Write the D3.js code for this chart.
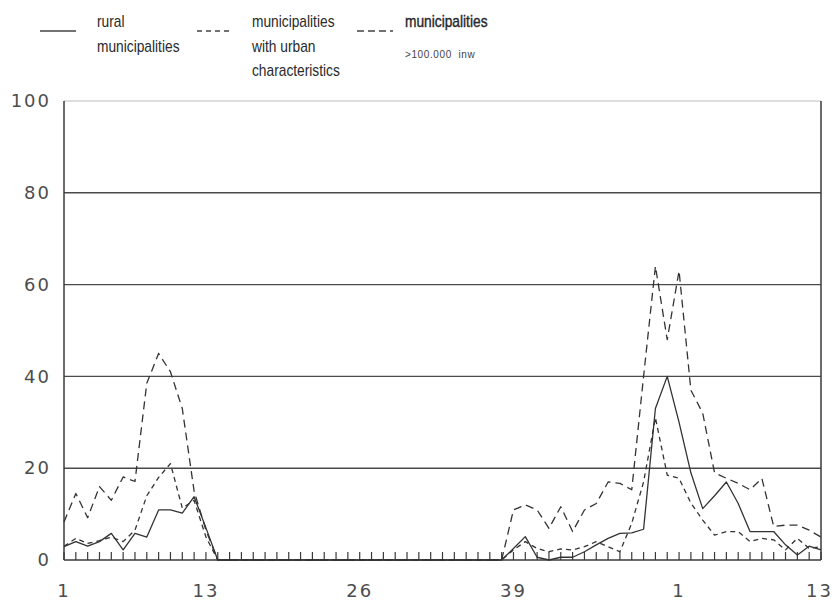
<!DOCTYPE html>
<html>
<head>
<meta charset="utf-8">
<script src="https://cdn.jsdelivr.net/npm/d3@7"></script>
<style>
  html, body { margin: 0; padding: 0; background: #fff; }
  svg { display: block; }
</style>
</head>
<body>
<svg id="chart" width="835" height="604"></svg>
<script>
// Weekly incidence per municipality type, weeks 1–52 followed by weeks 1–13 of the next year
const weeks = [1,2,3,4,5,6,7,8,9,10,11,12,13,14,15,16,17,18,19,20,21,22,23,24,25,26,
  27,28,29,30,31,32,33,34,35,36,37,38,39,40,41,42,43,44,45,46,47,48,49,50,51,52,53,
  1,2,3,4,5,6,7,8,9,10,11,12];

const rural = [2.9,4,3,4,5.8,2.2,5.8,5,10.9,10.9,10.2,13.8,7,0,
  0,0,0,0,0,0,0,0,0,0,0,0,0,0,0,0,0,0,0,0,0,0,0,
  0,2.5,5.1,0.6,0,0.6,0.6,1.8,3.3,4.7,5.8,5.9,6.7,33,40,30,19,11.2,14,17,12.3,
  6.2,6.2,6.2,3.3,1.1,3.0,2.2];

const urban = [3,4.7,3.6,4.2,5,4,6.5,14,18,21,11.3,13,5,0,
  0,0,0,0,0,0,0,0,0,0,0,0,0,0,0,0,0,0,0,0,0,0,0,
  0,2.2,4,2.5,1.8,2.4,2.2,2.9,4,2.9,1.8,8,17,31,18.5,17.8,12.4,8.7,5.4,6.2,
  6.2,4,4.7,4.4,2.2,4.7,2.5,2.9];

const large = [8.3,14.5,9.2,16,13,18.1,17.1,38.5,45,41,33,15,6.5,0,
  0,0,0,0,0,0,0,0,0,0,0,0,0,0,0,0,0,0,0,0,0,0,0,
  0,10.9,12,10.9,6.9,11.6,6.2,10.9,12.3,17,16.7,15.3,40,64,48,63,37,32,19,17.8,
  16.7,15.3,17.8,7.3,7.6,7.6,6.5,5];

// Positions (week index) that get a label, and the labels drawn there
const xTickIndex = [0, 12, 25, 38, 52, 64];
const xTickLabels = ["1", "13", "26", "39", "1", "13"];
const yTicks = [0, 20, 40, 60, 80, 100];

const legendItems = [
  { lines: ["rural", "municipalities"], dash: null, heavy: false },
  { lines: ["municipalities", "with urban", "characteristics"], dash: "5,4", heavy: false },
  { lines: ["municipalities"], sub: ">100.000  inw", dash: "7,4", heavy: true }
];

const svg = d3.select("#chart");
const plotLeft = 64, plotRight = 821, plotTop = 101, plotBottom = 560;
const ink = "#3a3a3a";

const x = d3.scaleLinear().domain([0, weeks.length - 1]).range([plotLeft, plotRight]);
const y = d3.scaleLinear().domain([0, 100]).range([plotBottom, plotTop]);

// Horizontal grid lines
svg.append("g")
  .selectAll("line")
  .data(yTicks.filter(v => v > 0 && v < 100))
  .join("line")
  .attr("x1", plotLeft).attr("x2", plotRight)
  .attr("y1", d => y(d)).attr("y2", d => y(d))
  .attr("stroke", "#4a4a4a").attr("stroke-width", 1.4);

// Top edge is faint
svg.append("line")
  .attr("x1", plotLeft).attr("x2", plotRight).attr("y1", y(100)).attr("y2", y(100))
  .attr("stroke", "#bdbdbd").attr("stroke-width", 1.2);

// Left and right frame
svg.append("line").attr("x1", plotLeft).attr("x2", plotLeft).attr("y1", plotTop).attr("y2", plotBottom)
  .attr("stroke", ink).attr("stroke-width", 1.5);
svg.append("line").attr("x1", plotRight).attr("x2", plotRight).attr("y1", plotTop).attr("y2", plotBottom)
  .attr("stroke", ink).attr("stroke-width", 1.5);

// Y axis labels
const yAxis = d3.axisLeft(y).tickValues(yTicks).tickSize(0).tickPadding(13);
const gy = svg.append("g").attr("transform", `translate(${plotLeft},0)`).call(yAxis);
gy.select(".domain").remove();
gy.selectAll("text")
  .attr("font-family", "DejaVu Sans, sans-serif")
  .attr("font-size", 18)
  .attr("letter-spacing", 2)
  .attr("fill", "#4d4d4d");

// X axis baseline
svg.append("line")
  .attr("x1", plotLeft).attr("x2", plotRight)
  .attr("y1", plotBottom).attr("y2", plotBottom)
  .attr("stroke", ink).attr("stroke-width", 1.6);

// One small upward tick for every week
svg.append("g")
  .selectAll("line")
  .data(d3.range(weeks.length))
  .join("line")
  .attr("x1", d => x(d)).attr("x2", d => x(d))
  .attr("y1", plotBottom).attr("y2", plotBottom - 8)
  .attr("stroke", ink).attr("stroke-width", 1.2);

svg.append("g")
  .selectAll("text")
  .data(xTickIndex)
  .join("text")
  .attr("x", d => x(d))
  .attr("y", 597)
  .attr("text-anchor", (d, i) => i === xTickIndex.length - 1 ? "end" : "middle")
  .attr("dx", (d, i) => i === xTickIndex.length - 1 ? 12 : 0)
  .attr("font-family", "DejaVu Sans, sans-serif")
  .attr("font-size", 18)
  .attr("letter-spacing", 2)
  .attr("fill", "#4d4d4d")
  .text((d, i) => xTickLabels[i]);

// Series lines
const line = d3.line().x((d, i) => x(i)).y(d => y(d));
const series = [
  { values: rural, dash: null },
  { values: urban, dash: "5,4" },
  { values: large, dash: "8,5" }
];
svg.append("g")
  .selectAll("path")
  .data(series)
  .join("path")
  .attr("d", d => line(d.values))
  .attr("fill", "none")
  .attr("stroke", "#333")
  .attr("stroke-width", 1.3)
  .attr("stroke-linejoin", "round")
  .attr("stroke-dasharray", d => d.dash);

// Legend
const legendX = [40, 197, 357];
const textX = [97, 252, 405];
const lg = svg.append("g");
legendItems.forEach((item, k) => {
  lg.append("line")
    .attr("x1", legendX[k]).attr("x2", legendX[k] + 36)
    .attr("y1", 31).attr("y2", 31)
    .attr("stroke", "#444").attr("stroke-width", 1.3)
    .attr("stroke-dasharray", item.dash);
  item.lines.forEach((t, j) => {
    lg.append("text")
      .attr("transform", `translate(${textX[k]},${27 + j * 24.5}) scale(0.86,1)`)
      .attr("font-family", "Liberation Sans, Arial, sans-serif")
      .attr("font-size", 16)
      .attr("fill", "#2a2a2a")
      .attr("stroke", item.heavy ? "#2a2a2a" : null)
      .attr("stroke-width", item.heavy ? 0.4 : null)
      .text(t);
  });
  if (item.sub) {
    lg.append("text")
      .attr("x", textX[k]).attr("y", 58)
      .attr("font-family", "Liberation Sans, Arial, sans-serif")
      .attr("font-size", 10)
      .attr("letter-spacing", 0.6)
      .attr("fill", "#444")
      .style("white-space", "pre")
      .text(item.sub);
  }
});
</script>
</body>
</html>
